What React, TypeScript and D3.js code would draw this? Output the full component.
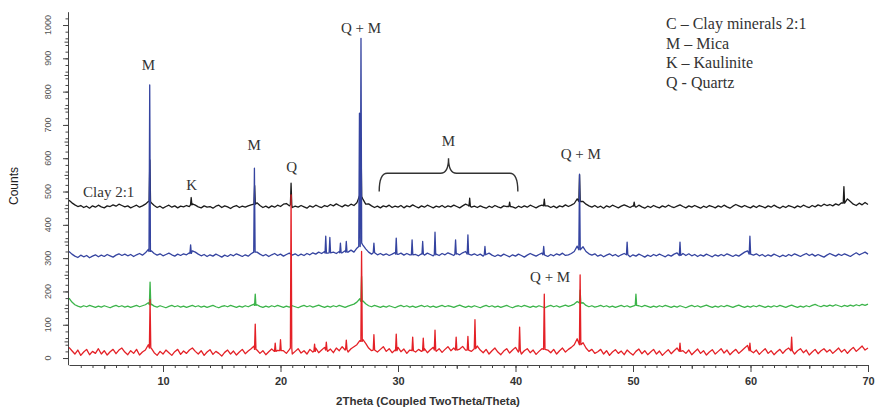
import React, { useEffect, useRef } from 'react';
import * as d3 from 'd3';

// 2theta grid of the background values: 2.00 .. 70.00 every 0.25 deg
const START = 2;
const STEP = 0.25;

// background counts, one row = 5 deg (273 values each)
const blackBase = [
  474, 466, 460, 455, 458, 452, 456, 450, 457, 453, 459, 454, 451, 457, 455, 460, 456, 462, 458, 454,
  457, 451, 455, 459, 453, 457, 462, 470, 466, 458, 452, 456, 450, 455, 459, 453, 457, 451, 456, 454,
  458, 455, 463, 459, 454, 451, 457, 453, 455, 450, 456, 459, 452, 457, 454, 449, 455, 458, 452, 456,
  453, 457, 460, 464, 466, 458, 452, 456, 451, 457, 453, 459, 455, 462, 464, 457, 452, 456, 453, 458,
  454, 450, 457, 453, 459, 455, 452, 458, 455, 461, 457, 463, 458, 454, 460, 456, 462, 458, 466, 490,
  478, 462, 463, 457, 452, 456, 451, 457, 454, 459, 452, 456, 453, 458, 451, 457, 454, 460, 455, 451,
  457, 453, 459, 455, 451, 456, 453, 458, 452, 457, 454, 459, 455, 451, 457, 462, 458, 453, 456, 452,
  457, 453, 450, 456, 452, 458, 454, 451, 457, 455, 461, 454, 450, 456, 452, 457, 453, 459, 455, 451,
  456, 459, 464, 457, 452, 456, 451, 457, 454, 460, 455, 459, 464, 478, 492, 470, 462, 457, 453, 458,
  452, 456, 450, 457, 453, 459, 455, 451, 456, 460, 456, 452, 457, 453, 459, 454, 450, 456, 452, 458,
  454, 451, 457, 453, 459, 455, 452, 456, 460, 455, 451, 457, 453, 458, 454, 450, 456, 452, 458, 455,
  451, 457, 453, 459, 454, 450, 456, 461, 457, 453, 458, 454, 451, 457, 452, 458, 455, 451, 457, 453,
  459, 454, 450, 456, 452, 458, 455, 451, 457, 453, 459, 455, 452, 458, 454, 460, 456, 462, 458, 461,
  457, 463, 459, 466, 472, 478, 470, 462, 458, 465, 460, 467, 461,
];
const blueBase = [
  320, 312, 306, 302, 309, 304, 308, 301, 306, 310, 304, 309, 305, 311, 307, 303, 309, 313, 308, 312,
  307, 311, 305, 310, 314, 309, 316, 326, 322, 314, 309, 313, 307, 311, 315, 310, 306, 312, 308, 313,
  310, 316, 322, 318, 312, 307, 311, 305, 310, 306, 312, 308, 303, 309, 305, 311, 307, 313, 309, 305,
  310, 306, 313, 320, 318, 312, 307, 311, 305, 310, 314, 308, 312, 306, 311, 315, 309, 313, 307, 312,
  308, 314, 310, 316, 312, 318, 314, 320, 315, 322, 318, 314, 320, 316, 322, 318, 324, 318, 330, 360,
  340, 328, 318, 312, 316, 310, 314, 309, 313, 308, 312, 317, 311, 315, 309, 314, 310, 316, 311, 307,
  313, 309, 315, 311, 307, 312, 308, 314, 310, 316, 312, 308, 314, 310, 316, 320, 314, 309, 313, 308,
  312, 306, 311, 315, 309, 305, 310, 306, 312, 308, 304, 310, 306, 312, 308, 303, 309, 314, 310, 306,
  311, 315, 309, 305, 311, 307, 313, 309, 315, 308, 310, 314, 320, 336, 360, 334, 320, 313, 309, 313,
  306, 310, 304, 309, 313, 307, 311, 305, 310, 314, 309, 304, 310, 306, 312, 308, 303, 309, 305, 311,
  307, 312, 308, 304, 310, 306, 312, 316, 322, 314, 308, 313, 307, 311, 305, 310, 306, 312, 308, 304,
  310, 306, 311, 307, 313, 309, 305, 310, 306, 312, 318, 322, 314, 309, 313, 307, 311, 305, 310, 306,
  312, 308, 304, 309, 305, 311, 307, 313, 309, 305, 310, 314, 308, 312, 306, 311, 307, 303, 309, 314,
  310, 306, 312, 308, 313, 309, 305, 311, 316, 310, 314, 318, 312,
];
const greenBase = [
  180, 168, 160, 156, 153, 157, 154, 158, 155, 152, 156, 153, 157, 154, 151, 155, 158, 154, 157, 153,
  156, 152, 155, 158, 154, 157, 160, 166, 162, 156, 153, 157, 154, 151, 155, 158, 154, 157, 153, 156,
  152, 155, 158, 154, 157, 153, 156, 152, 155, 158, 154, 151, 155, 157, 154, 158, 155, 152, 156, 153,
  157, 154, 158, 162, 160, 155, 152, 156, 153, 157, 154, 158, 155, 152, 156, 153, 157, 154, 151, 155,
  158, 154, 157, 153, 156, 159, 155, 152, 156, 153, 157, 154, 158, 155, 152, 156, 159, 162, 168, 178,
  172, 163, 157, 154, 158, 155, 152, 156, 153, 157, 154, 151, 155, 158, 154, 157, 153, 156, 152, 155,
  158, 154, 157, 153, 156, 152, 155, 158, 154, 157, 155, 152, 156, 159, 155, 152, 156, 153, 157, 154,
  151, 155, 158, 154, 157, 153, 156, 152, 155, 158, 154, 151, 155, 157, 154, 158, 155, 152, 156, 153,
  157, 154, 151, 155, 158, 154, 157, 153, 156, 159, 155, 158, 162, 170, 178, 166, 158, 154, 157, 153,
  155, 158, 154, 157, 153, 156, 152, 155, 158, 154, 157, 153, 156, 160, 157, 154, 158, 155, 152, 156,
  153, 157, 154, 158, 155, 152, 156, 153, 157, 154, 151, 155, 158, 154, 157, 153, 156, 159, 155, 152,
  156, 153, 157, 154, 158, 155, 152, 156, 159, 155, 152, 156, 153, 157, 154, 158, 155, 152, 156, 153,
  157, 154, 158, 155, 152, 156, 159, 155, 152, 156, 153, 157, 154, 158, 161, 157, 154, 158, 155, 159,
  156, 160, 157, 154, 158, 155, 159, 156, 160, 157, 161, 158, 162,
];
const redBase = [
  32, 22, 12, 24, 8, 18, 26, 10, 20, 14, 28, 12, 22, 9, 19, 26, 13, 24, 30, 18,
  10, 22, 14, 26, 9, 18, 24, 40, 30, 16, 8, 20, 12, 24, 16, 8, 19, 26, 11, 21,
  14, 24, 30, 20, 12, 22, 8, 18, 25, 11, 20, 14, 6, 17, 24, 12, 21, 9, 18, 26,
  13, 21, 28, 36, 24, 14, 22, 10, 19, 27, 14, 23, 34, 22, 14, 25, 12, 20, 28, 15,
  22, 12, 26, 18, 30, 16, 24, 32, 20, 27, 16, 30, 22, 34, 24, 18, 28, 34, 40, 52,
  56, 44, 30, 22, 30, 18, 26, 34, 20, 28, 16, 24, 32, 19, 27, 14, 24, 30, 18, 26,
  20, 28, 16, 25, 32, 20, 28, 17, 26, 34, 22, 30, 18, 27, 35, 24, 30, 20, 28, 36,
  24, 16, 26, 12, 22, 30, 18, 10, 21, 28, 15, 24, 32, 18, 12, 22, 28, 16, 24, 11,
  20, 28, 34, 24, 16, 26, 12, 22, 30, 18, 26, 32, 40, 58, 62, 46, 30, 20, 26, 14,
  19, 26, 12, 22, 8, 18, 25, 14, 21, 10, 24, 16, 9, 20, 27, 13, 22, 10, 18, 26,
  12, 21, 8, 17, 25, 13, 22, 30, 36, 22, 14, 24, 10, 19, 27, 14, 22, 9, 18, 25,
  12, 20, 28, 15, 24, 10, 19, 26, 14, 22, 30, 38, 26, 16, 24, 11, 20, 28, 14, 22,
  10, 19, 26, 14, 24, 30, 20, 12, 22, 28, 16, 24, 9, 18, 26, 13, 22, 28, 18, 25,
  14, 22, 30, 18, 26, 14, 24, 32, 20, 28, 36, 24, 30,
];

// reflections: [2theta, top counts, foot counts]
const blackPeaks = [
  [8.88, 595, 470], [12.4, 482, 460], [17.8, 518, 462], [20.9, 525, 460],
  [26.85, 660, 485], [36.1, 480, 456], [39.5, 468, 455], [42.45, 477, 457],
  [45.45, 550, 470], [50.1, 468, 456], [67.95, 515, 465],
];
const bluePeaks = [
  [8.87, 820, 320], [12.35, 340, 314], [17.78, 570, 318], [23.85, 366, 315],
  [24.2, 362, 316], [25.1, 345, 316], [25.6, 350, 318], [26.72, 735, 335],
  [26.85, 960, 345], [27.95, 345, 316], [29.85, 360, 312], [31.2, 355, 310],
  [32.1, 350, 312], [33.15, 378, 310], [34.9, 355, 312], [35.95, 370, 312],
  [37.4, 335, 310], [42.4, 335, 310], [45.45, 552, 325], [49.5, 348, 310],
  [54.0, 348, 308], [59.95, 366, 312],
];
const greenPeaks = [
  [8.9, 228, 160], [17.85, 192, 158], [26.9, 245, 170], [45.5, 204, 165],
  [50.25, 192, 158],
];
const redPeaks = [
  [8.9, 175, 30], [17.85, 102, 26], [19.55, 45, 20], [20.0, 55, 22],
  [20.9, 490, 30], [22.9, 42, 20], [23.9, 48, 24], [25.6, 54, 26],
  [26.9, 320, 50], [27.95, 70, 24], [29.85, 72, 22], [31.25, 63, 22],
  [32.15, 60, 22], [33.15, 84, 24], [34.95, 63, 24], [35.95, 65, 24],
  [36.55, 115, 28], [40.35, 93, 22], [42.45, 192, 26], [45.5, 250, 40],
  [54.0, 45, 20], [59.95, 45, 22], [63.5, 63, 22],
];

const series = [
  { name: 'Clay 2:1', color: '#1b1b1b', base: blackBase, peaks: blackPeaks },
  { name: 'blue', color: '#3544a0', base: blueBase, peaks: bluePeaks },
  { name: 'green', color: '#3cb44a', base: greenBase, peaks: greenPeaks },
  { name: 'red', color: '#e42127', base: redBase, peaks: redPeaks },
];

const xTicks = [10, 20, 30, 40, 50, 60, 70];
const yTicks = [0, 100, 200, 300, 400, 500, 600, 700, 800, 900, 1000];

// phase labels: [text, 2theta, counts]
const labels = [
  ['M', 8.75, 865], ['K', 12.45, 505], ['M', 17.75, 625], ['Q', 20.95, 558],
  ['Q + M', 26.85, 976], ['M', 34.3, 637], ['Q + M', 45.55, 598],
  ['Q + M', 42.95, 228],
];
const legend = ['C \u2013 Clay minerals 2:1', 'M \u2013 Mica', 'K \u2013 Kaulinite', 'Q - Quartz'];

const buildTrace = (base, peaks) => {
  const pts = [];
  base.forEach((v, i) => {
    const t = START + i * STEP;
    if (!peaks.some(p => Math.abs(p[0] - t) < 0.08)) pts.push([t, v]);
  });
  peaks.forEach(([p, top, foot]) => {
    pts.push([p - 0.06, foot], [p, top], [p + 0.06, foot]);
  });
  return pts.sort((a, b) => a[0] - b[0]);
};

const App = () => {
  const svgRef = useRef(null);

  useEffect(() => {
    const width = 875, height = 412;
    const svg = d3.select(svgRef.current);
    svg.selectAll('*').remove();
    svg.attr('width', width).attr('height', height).style('background', 'white');

    const x = d3.scaleLinear().domain([2, 70]).range([69, 868]);
    const y = d3.scaleLinear().domain([-20, 1040]).range([364.7, 11.7]);
    const axisY = 365;

    // traces
    const line = d3.line().x(d => x(d[0])).y(d => y(d[1]));
    series.forEach(s => {
      svg.append('path')
        .datum(buildTrace(s.base, s.peaks))
        .attr('d', line)
        .attr('fill', 'none')
        .attr('stroke', s.color)
        .attr('stroke-width', 1.3)
        .attr('stroke-linejoin', 'round');
    });

    // x axis
    const xg = svg.append('g').attr('transform', `translate(0,${axisY})`);
    xg.append('g')
      .call(d3.axisBottom(x).tickValues(d3.range(3, 70)).tickSize(3).tickFormat(() => '').tickSizeOuter(0))
      .call(g => g.select('.domain').remove());
    xg.append('g')
      .call(d3.axisBottom(x).tickValues([5, 15, 25, 35, 45, 55, 65]).tickSize(4).tickFormat(() => '').tickSizeOuter(0))
      .call(g => g.select('.domain').remove());
    xg.append('g')
      .call(d3.axisBottom(x).tickValues(xTicks).tickSize(7).tickPadding(5).tickSizeOuter(0))
      .call(g => g.selectAll('text')
        .attr('font-family', 'Liberation Sans, Arial, sans-serif')
        .attr('font-size', 11)
        .attr('font-weight', 'bold')
        .attr('fill', '#333'));
    xg.selectAll('line, path').attr('stroke', '#444');

    // y axis
    const yg = svg.append('g').attr('transform', 'translate(68,0)');
    yg.append('g')
      .call(d3.axisLeft(y).tickValues(d3.range(0, 1040, 20)).tickSize(2.5).tickFormat(() => '').tickSizeOuter(0))
      .call(g => g.select('.domain').remove());
    yg.append('g')
      .call(d3.axisLeft(y).tickValues(d3.range(50, 1040, 100)).tickSize(3.5).tickFormat(() => '').tickSizeOuter(0))
      .call(g => g.select('.domain').remove());
    yg.append('g')
      .call(d3.axisLeft(y).tickValues(yTicks).tickSize(5).tickFormat(() => '').tickSizeOuter(0));
    yg.selectAll('line, path').attr('stroke', '#444');
    yg.selectAll('.ylab')
      .data(yTicks)
      .enter()
      .append('text')
      .attr('transform', d => `translate(-17,${y(d)}) rotate(-90)`)
      .attr('text-anchor', 'middle')
      .attr('font-family', 'Liberation Sans, Arial, sans-serif')
      .attr('font-size', 9)
      .attr('fill', '#555')
      .text(d => d);

    // axis titles
    svg.append('text')
      .attr('x', 428).attr('y', 405)
      .attr('text-anchor', 'middle')
      .attr('font-family', 'Liberation Sans, Arial, sans-serif')
      .attr('font-size', 11.5)
      .attr('font-weight', 'bold')
      .attr('fill', '#333')
      .text('2Theta (Coupled TwoTheta/Theta)');
    svg.append('text')
      .attr('transform', 'translate(18,186) rotate(-90)')
      .attr('text-anchor', 'middle')
      .attr('font-family', 'Liberation Sans, Arial, sans-serif')
      .attr('font-size', 12)
      .attr('fill', '#222')
      .text('Counts');

    // phase labels
    const serif = 'Liberation Serif, Times New Roman, serif';
    svg.selectAll('.lab')
      .data(labels)
      .enter()
      .append('text')
      .attr('x', d => x(d[1]))
      .attr('y', d => y(d[2]))
      .attr('text-anchor', 'middle')
      .attr('font-family', serif)
      .attr('font-size', 15)
      .attr('fill', '#333')
      .text(d => d[0]);
    svg.append('text')
      .attr('x', x(3.2)).attr('y', y(483))
      .attr('font-family', serif)
      .attr('font-size', 15)
      .attr('fill', '#333')
      .text(series[0].name);

    // bracket over the mica group
    const bx0 = x(28.4), bx1 = x(40.2), bxm = x(34.3);
    const by0 = y(500), by1 = y(555), bym = y(600);
    svg.append('path')
      .attr('d', `M${bx0},${by0} Q${bx0},${by1} ${bx0 + 8},${by1} L${bxm - 8},${by1} Q${bxm},${by1} ${bxm},${bym} Q${bxm},${by1} ${bxm + 8},${by1} L${bx1 - 8},${by1} Q${bx1},${by1} ${bx1},${by0}`)
      .attr('fill', 'none')
      .attr('stroke', '#333')
      .attr('stroke-width', 1.4);

    // legend
    svg.selectAll('.leg')
      .data(legend)
      .enter()
      .append('text')
      .attr('x', 666)
      .attr('y', (d, i) => 29 + i * 19.7)
      .attr('font-family', serif)
      .attr('font-size', 16)
      .attr('fill', '#333')
      .text(d => d);
  }, []);

  return <svg ref={svgRef} style={{ position: 'absolute', left: 0, top: 0 }} />;
};

export default App;
